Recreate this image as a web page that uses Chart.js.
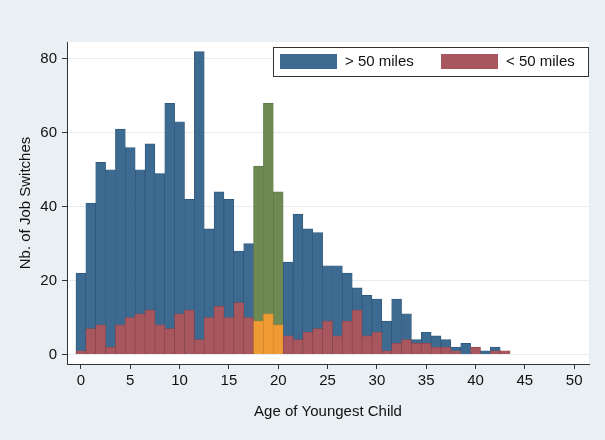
<!DOCTYPE html>
<html>
<head>
<meta charset="utf-8">
<script src="https://cdn.jsdelivr.net/npm/chart.js@4.4.1/dist/chart.umd.min.js"></script>
<style>
  body { margin: 0; background: #e9eff2; }
  #wrap { width: 605px; height: 440px; }
</style>
</head>
<body>
<div id="wrap"><canvas id="jobChart" width="605" height="440"></canvas></div>
<script>
// age of youngest child (one bin per year)
const ages = [0, 1, 2, 3, 4, 5, 6, 7, 8, 9, 10, 11, 12, 13, 14, 15, 16, 17, 18, 19, 20, 21,
    22, 23, 24, 25, 26, 27, 28, 29, 30, 31, 32, 33, 34, 35, 36, 37, 38, 39, 40, 41, 42, 43];
// job switches, move > 50 miles
const farMoves = [22, 41, 52, 50, 61, 56, 50, 57, 49, 68, 63, 42, 82, 34, 44, 42, 28, 30, 51, 68, 44, 25,
    38, 34, 33, 24, 24, 22, 18, 16, 15, 9, 15, 11, 4, 6, 5, 4, 2, 3, 1, 1, 2, 0];
// job switches, move < 50 miles
const nearMoves = [1, 7, 8, 2, 8, 10, 11, 12, 8, 7, 11, 12, 4, 10, 13, 10, 14, 10, 9, 11, 8, 5,
    4, 6, 7, 9, 5, 9, 12, 5, 6, 1, 3, 4, 3, 3, 2, 2, 1, 0, 2, 0, 1, 1];
const highlightAges = [18, 19, 20];
const xTicks = [0, 5, 10, 15, 20, 25, 30, 35, 40, 45, 50];
const yTicks = [0, 20, 40, 60, 80];

const BLUE = '#3d6a91', BLUE_EDGE = '#2e5577';
const RED = '#a8575e', RED_EDGE = '#8c454b';
const GREEN = '#6e8a52', GREEN_EDGE = '#5a7442';
const ORANGE = '#ef9b33', ORANGE_EDGE = '#d9862a';

Chart.defaults.font.family = "'Liberation Sans', Arial, sans-serif";
Chart.defaults.color = '#111';

const isHi = a => highlightAges.includes(a);

const bgPlugin = {
    id: 'bg',
    beforeDraw(chart) {
        const { ctx, chartArea: a } = chart;
        ctx.save();
        ctx.fillStyle = '#e9eff2';
        ctx.fillRect(0, 0, chart.width, chart.height);
        ctx.fillStyle = '#ffffff';
        ctx.fillRect(a.left, a.top, a.right - a.left, a.bottom - a.top);
        ctx.restore();
    }
};

const legendBox = {
    id: 'legendBox',
    afterDraw(chart) {
        const { ctx, chartArea: a } = chart;
        const x0 = a.right - 316, y0 = a.top + 5, w = 315, h = 29;
        ctx.save();
        ctx.fillStyle = '#fff';
        ctx.fillRect(x0, y0, w, h);
        ctx.strokeStyle = '#333';
        ctx.lineWidth = 1;
        ctx.strokeRect(x0 + 0.5, y0 + 0.5, w, h);
        ctx.font = "15px 'Liberation Sans', Arial, sans-serif";
        ctx.textBaseline = 'middle';
        ctx.fillStyle = BLUE;
        ctx.fillRect(x0 + 7, y0 + 7, 57, 15);
        ctx.fillStyle = '#111';
        ctx.fillText('> 50 miles', x0 + 72, y0 + 15);
        ctx.fillStyle = RED;
        ctx.fillRect(x0 + 168, y0 + 7, 57, 15);
        ctx.fillStyle = '#111';
        ctx.fillText('< 50 miles', x0 + 233, y0 + 15);
        ctx.restore();
    }
};

new Chart(document.getElementById('jobChart'), {
    type: 'bar',
    data: {
        datasets: [
            {
                label: '> 50 miles',
                data: ages.map((a, i) => ({ x: a, y: farMoves[i] })),
                backgroundColor: ages.map(a => isHi(a) ? GREEN : BLUE),
                borderColor: ages.map(a => isHi(a) ? GREEN_EDGE : BLUE_EDGE),
                borderWidth: 0.7,
                order: 1
            },
            {
                label: '< 50 miles',
                data: ages.map((a, i) => ({ x: a, y: nearMoves[i] })),
                backgroundColor: ages.map(a => isHi(a) ? ORANGE : RED),
                borderColor: ages.map(a => isHi(a) ? ORANGE_EDGE : RED_EDGE),
                borderWidth: 0.7,
                order: 0
            }
        ]
    },
    options: {
        responsive: false,
        animation: false,
        layout: { padding: { left: 0, right: 16, top: 42, bottom: 0 } },
        datasets: {
            bar: { grouped: false, barPercentage: 1, categoryPercentage: 1 }
        },
        plugins: {
            legend: { display: false },
            tooltip: { enabled: false }
        },
        scales: {
            x: {
                type: 'linear',
                offset: false,
                min: -1.41,
                max: 51.5,
                afterBuildTicks: s => { s.ticks = xTicks.map(v => ({ value: v })); },
                afterFit: s => { s.height = 76; },
                grid: { offset: false, drawOnChartArea: false, drawTicks: true, tickLength: 5, tickColor: '#333' },
                border: { display: true, color: '#333', width: 1 },
                ticks: { font: { size: 15 }, color: '#111', padding: 3, maxRotation: 0, autoSkip: false },
                title: {
                    display: true,
                    text: 'Age of Youngest Child',
                    font: { size: 15 },
                    color: '#111',
                    padding: { top: 0, bottom: 19 }
                }
            },
            y: {
                type: 'linear',
                min: -2.6,
                max: 84.6,
                afterBuildTicks: s => { s.ticks = yTicks.map(v => ({ value: v })); },
                afterFit: s => { s.width = 67; },
                grid: { color: '#e6ecf0', lineWidth: 1, drawTicks: true, tickLength: 5, tickColor: '#333' },
                border: { display: true, color: '#333', width: 1 },
                ticks: { font: { size: 15 }, color: '#111', padding: 5 },
                title: {
                    display: true,
                    text: 'Nb. of Job Switches',
                    font: { size: 15 },
                    color: '#111',
                    padding: { top: 17, bottom: 0 }
                }
            }
        }
    },
    plugins: [bgPlugin, legendBox]
});
</script>
</body>
</html>
